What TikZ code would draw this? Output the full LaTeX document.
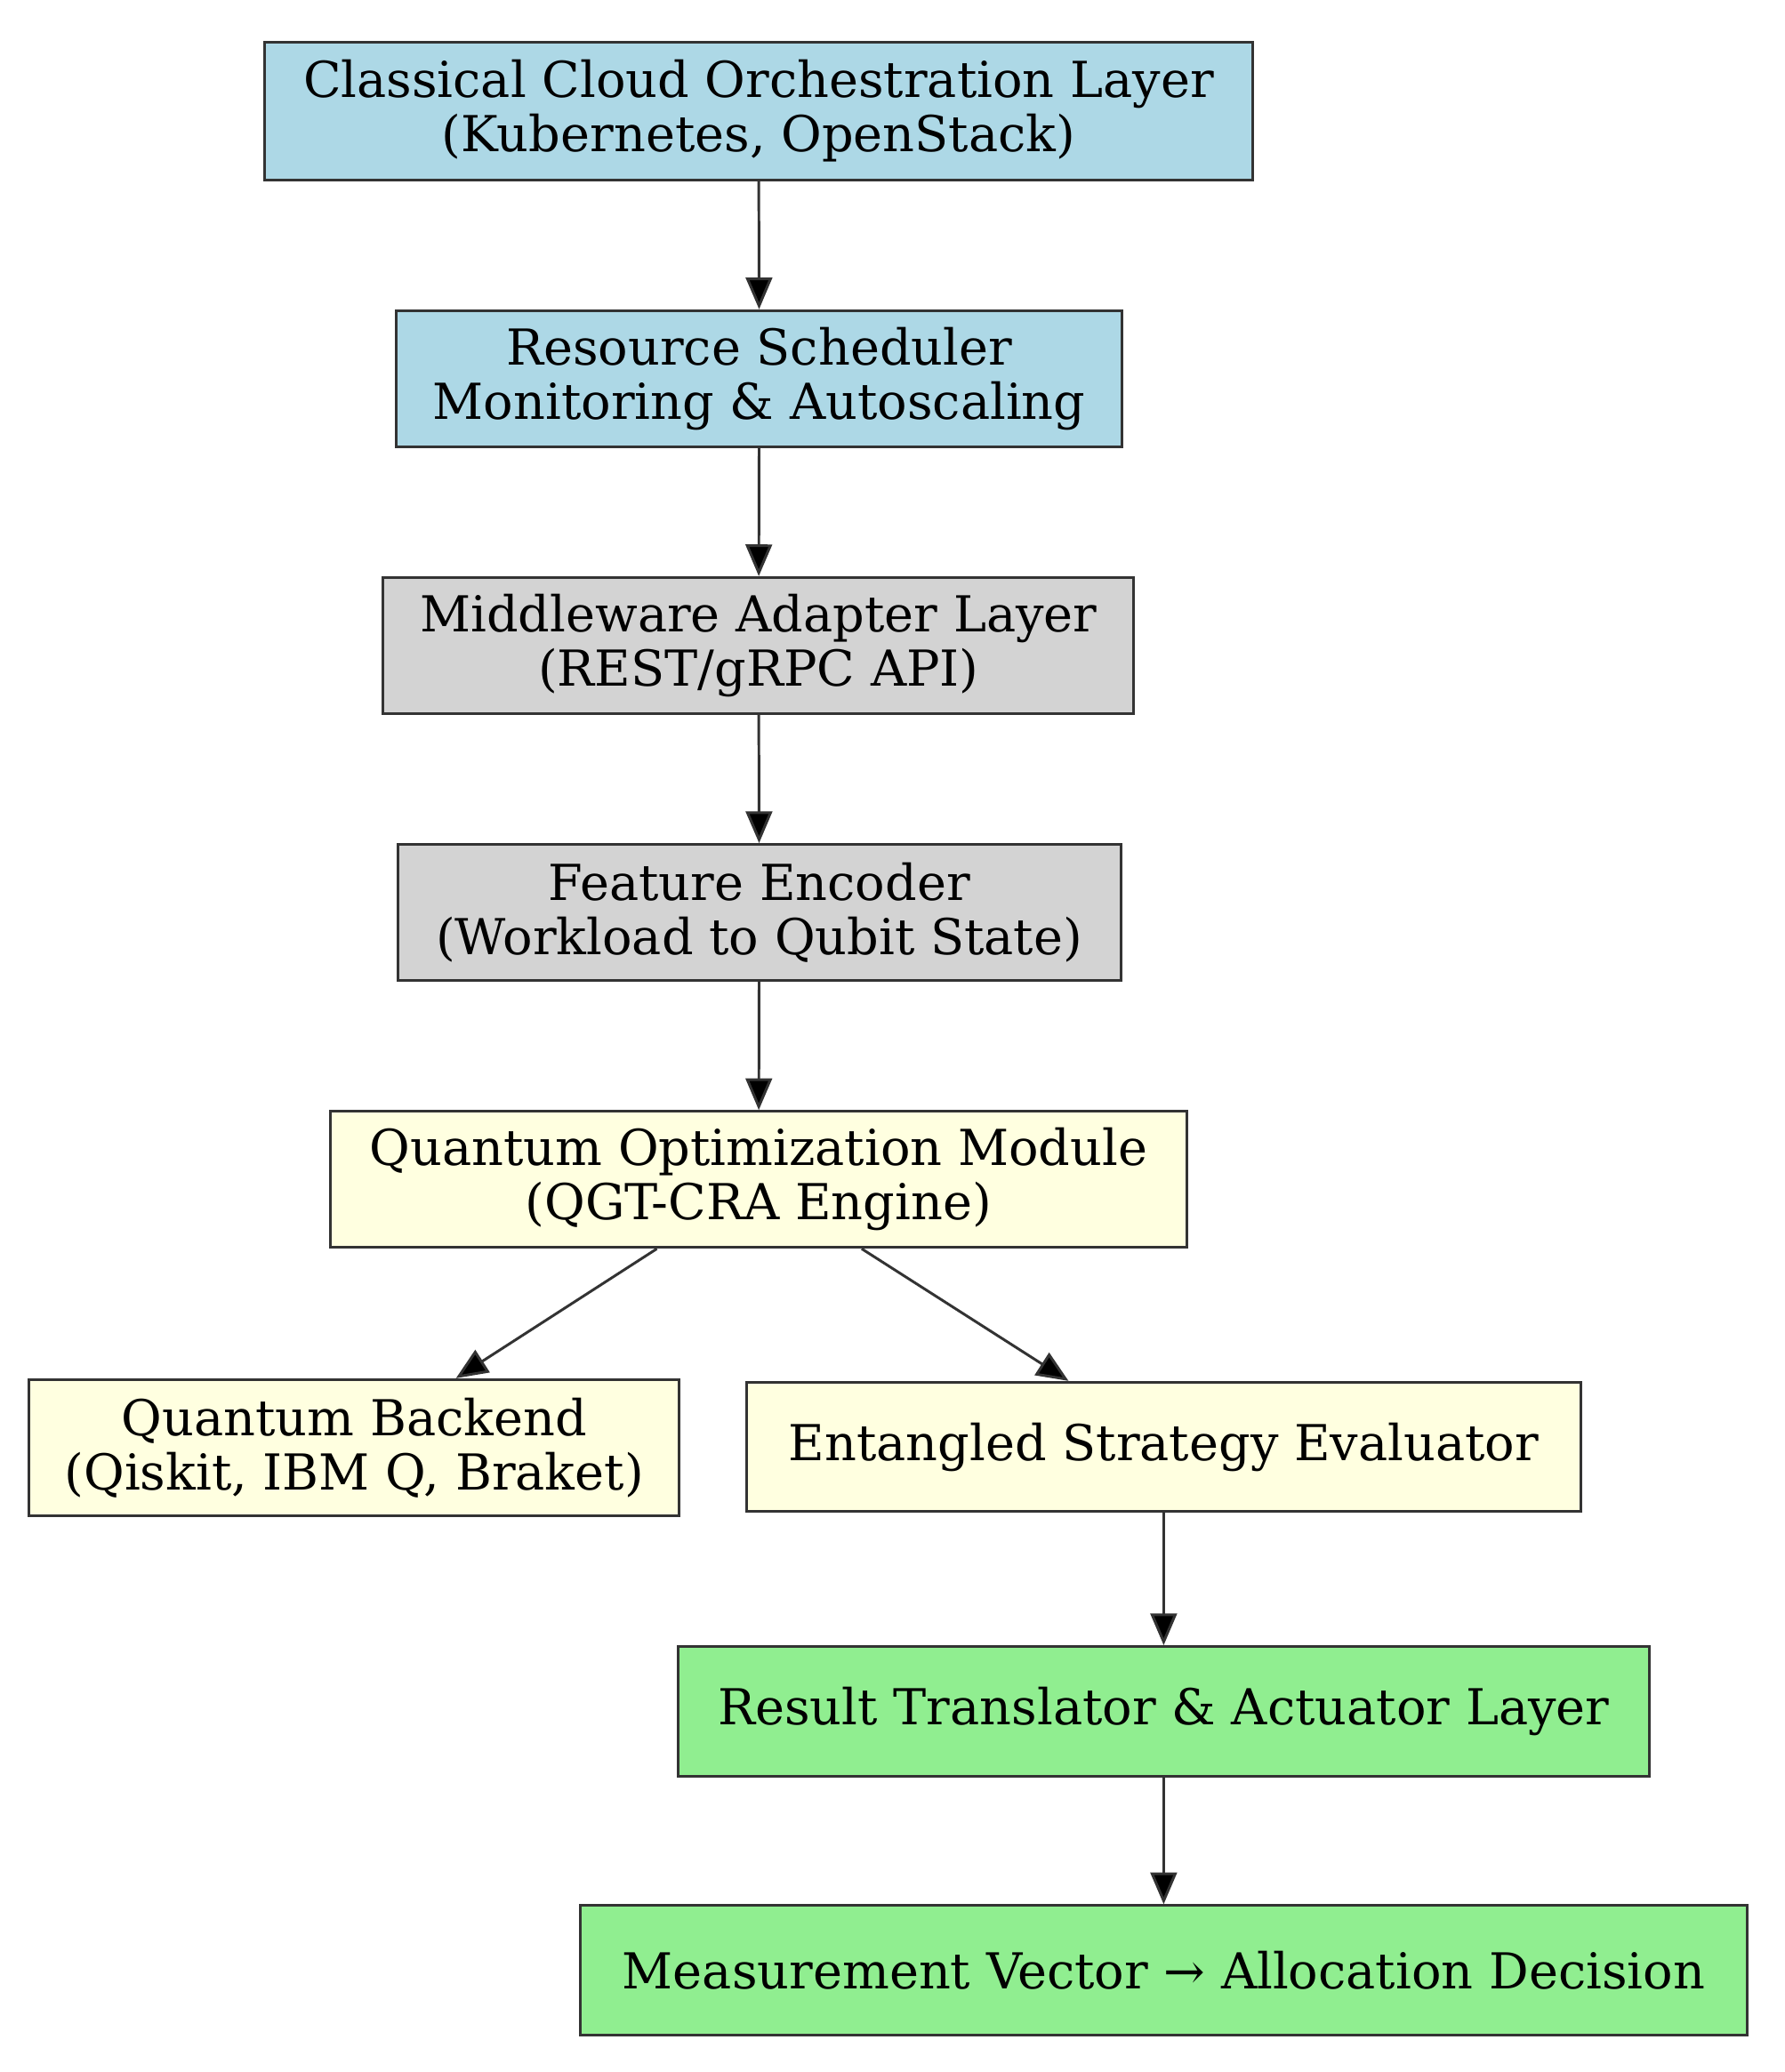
\documentclass[tikz,border=0pt]{standalone}
\usepackage{fontspec}
\setmainfont{DejaVu Serif}
\usetikzlibrary{arrows.meta}
\definecolor{lblue}{HTML}{ADD8E6}
\definecolor{lgray}{HTML}{D3D3D3}
\definecolor{lyel}{HTML}{FFFFE0}
\definecolor{lgreen}{HTML}{90EE90}
\definecolor{edge}{HTML}{333333}
\begin{document}
\begin{tikzpicture}[x=1pt,y=-1pt,
  box/.style={draw=edge,line width=2pt,inner sep=0pt,align=center,font=\fontsize{37.5}{41}\selectfont},
  arr/.style={draw=edge,line width=2pt,-{Triangle[length=24pt,width=20pt,fill=black]}}]
\useasboundingbox (0,0) rectangle (1350,1568);
\node[box,fill=lblue,minimum width=748pt,minimum height=104pt] (n1) at (574,84) {Classical Cloud Orchestration Layer\\(Kubernetes, OpenStack)};
\node[box,fill=lblue,minimum width=549pt,minimum height=103pt] (n2) at (574.5,286.5) {Resource Scheduler\\Monitoring \& Autoscaling};
\node[box,fill=lgray,minimum width=568pt,minimum height=103pt] (n3) at (574,488.5) {Middleware Adapter Layer\\(REST/gRPC API)};
\node[box,fill=lgray,minimum width=547pt,minimum height=103pt] (n4) at (574.5,690.5) {Feature Encoder\\(Workload to Qubit State)};
\node[box,fill=lyel,minimum width=648pt,minimum height=103pt] (n5) at (574,892.5) {Quantum Optimization Module\\(QGT-CRA Engine)};
\node[box,fill=lyel,minimum width=492pt,minimum height=103pt] (n6) at (268,1095.5) {Quantum Backend\\(Qiskit, IBM Q, Braket)};
\node[box,fill=lyel,minimum width=631pt,minimum height=98pt] (n7) at (880.5,1095) {Entangled Strategy Evaluator};
\node[box,fill=lgreen,minimum width=735pt,minimum height=98pt] (n8) at (880.5,1295) {Result Translator \& Actuator Layer};
\node[box,fill=lgreen,minimum width=883pt,minimum height=98pt] (n9) at (880.5,1491) {Measurement Vector → Allocation Decision};
\draw[arr] (n1) -- (n2);
\draw[arr] (n2) -- (n3);
\draw[arr] (n3) -- (n4);
\draw[arr] (n4) -- (n5);
\draw[arr] ([xshift=-77pt]n5.south) -- ([xshift=77pt]n6.north);
\draw[arr] ([xshift=78pt]n5.south) -- ([xshift=-72pt]n7.north);
\draw[arr] (n7) -- (n8);
\draw[arr] (n8) -- (n9);
\end{tikzpicture}
\end{document}
